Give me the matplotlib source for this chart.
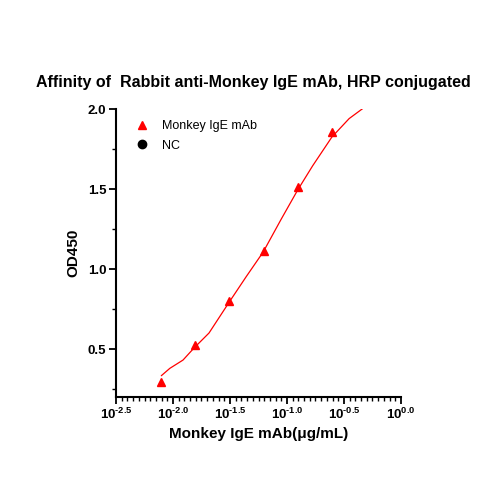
import matplotlib
matplotlib.use('Agg')
import matplotlib.pyplot as plt
from matplotlib.ticker import FixedLocator, FuncFormatter, MultipleLocator
import numpy as np

# Data
conc = [0.25 / 2 ** k for k in range(5, -1, -1)]          # ug/mL, 2-fold dilutions
od450 = [0.296, 0.525, 0.80, 1.112, 1.514, 1.858]
nc_x = []
nc_y = []

# fitted curve (log10 conc, OD)
curve_logx = [-2.101, -2.028, -1.912, -1.816, -1.684, -1.512, -1.358,
              -1.209, -1.052, -0.906, -0.775, -0.606, -0.455, -0.341]
curve_y = [0.334, 0.379, 0.431, 0.506, 0.60, 0.7875, 0.952,
           1.106, 1.31, 1.494, 1.645, 1.825, 1.94, 2.0]

major_exp = [-2.5, -2.0, -1.5, -1.0, -0.5, 0.0]

plt.rcParams['font.family'] = ['Liberation Sans', 'DejaVu Sans']
plt.rcParams['mathtext.fontset'] = 'custom'
plt.rcParams['mathtext.rm'] = 'Liberation Sans:bold'
plt.rcParams['mathtext.bf'] = 'Liberation Sans:bold'
plt.rcParams['mathtext.default'] = 'bf'


def exp_label(v, pos):
    e = np.log10(v)
    if e < 0:
        return r'$10^{\text{-}%.1f}$' % abs(e)
    return r'$10^{%.1f}$' % e


fig = plt.figure(figsize=(5, 5), dpi=100)
ax = fig.add_axes([0.232, 0.206, 0.570, 0.576])

ax.plot([10 ** v for v in curve_logx], curve_y, color='red', lw=0.9, zorder=2)
ax.plot(conc, od450, linestyle='none', marker='^', ms=6, color='red',
        label='Monkey IgE mAb', zorder=3)
ax.plot(nc_x, nc_y, linestyle='none', marker='o', ms=6, color='black', label='NC')

ax.set_xscale('log')
ax.set_xlim(10 ** -2.5, 1.0)
ax.set_ylim(0.2, 2.0)

ax.xaxis.set_major_locator(FixedLocator([10 ** e for e in major_exp]))
ax.xaxis.set_minor_locator(FixedLocator([10 ** (-2.5 + 0.05 * i) for i in range(51)]))
ax.xaxis.set_major_formatter(FuncFormatter(exp_label))
ax.xaxis.set_minor_formatter(FuncFormatter(lambda v, p: ''))

ax.yaxis.set_major_locator(FixedLocator([0.5, 1.0, 1.5, 2.0]))
ax.yaxis.set_minor_locator(MultipleLocator(0.25))
ax.yaxis.set_major_formatter(FuncFormatter(lambda v, p: '%.1f' % v))

for side in ['top', 'right']:
    ax.spines[side].set_visible(False)
for side in ['left', 'bottom']:
    ax.spines[side].set_linewidth(1.5)

ax.tick_params(which='major', length=5, width=1.3, labelsize=9.5, pad=2)
ax.tick_params(which='minor', length=3, width=1.0)
for lab in ax.get_yticklabels():
    lab.set_fontweight('bold')

ax.set_xlabel('Monkey IgE mAb(μg/mL)', fontsize=11, fontweight='bold', labelpad=4)
ax.set_ylabel('OD450', fontsize=11, fontweight='bold', labelpad=5)
fig.text(0.506, 0.834, 'Affinity of  Rabbit anti-Monkey IgE mAb, HRP conjugated',
         ha='center', va='center', fontsize=11.5, fontweight='bold')

ax.legend(loc='upper left', bbox_to_anchor=(0.02, 1.0), frameon=False,
          fontsize=9, handletextpad=0.8, labelspacing=0.6, handlelength=1.5)

fig.savefig('out.png', dpi=100)
